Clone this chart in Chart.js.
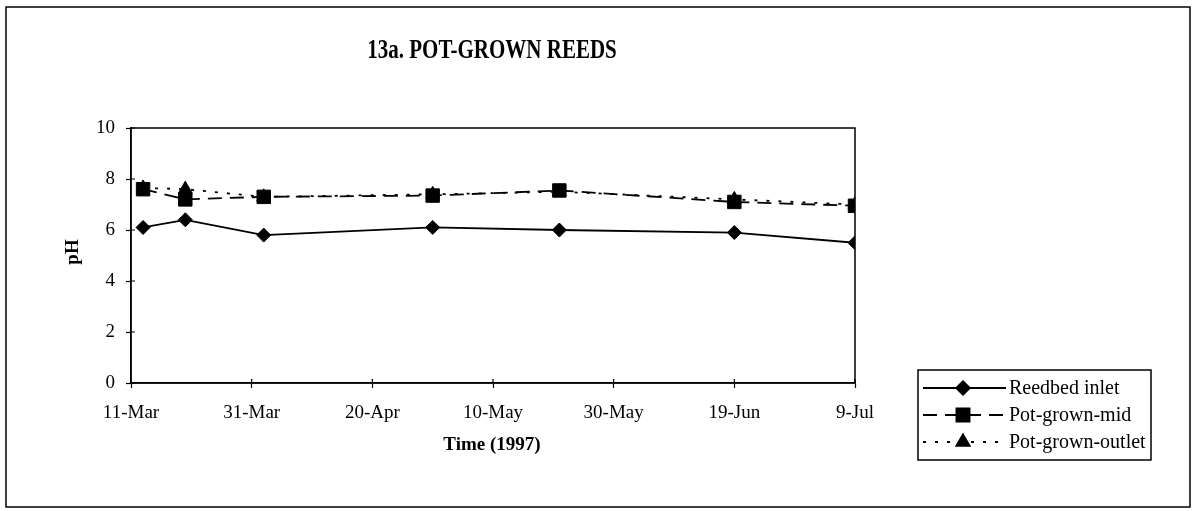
<!DOCTYPE html>
<html lang="en">
<head>
    <meta charset="UTF-8">
    <title>13a. Pot-grown reeds</title>
    <script src="https://cdn.jsdelivr.net/npm/chart.js"></script>
    <style>
        body {
            margin: 0;
            padding: 0;
            background-color: #fff;
        }
        .wrap {
            width: 1197px;
            height: 511px;
        }
    </style>
</head>
<body>
    <div class="wrap"><canvas id="chart"></canvas></div>

    <script>
        // days counted from 11-Mar-1997
        const sampleDays = [2, 9, 22, 50, 71, 100, 120];
        const reedbedInlet = [6.1, 6.4, 5.8, 6.1, 6.0, 5.9, 5.5];
        const potGrownMid = [7.6, 7.2, 7.3, 7.35, 7.55, 7.1, 6.95];
        const potGrownOutlet = [7.65, 7.6, 7.3, 7.4, 7.5, 7.2, 7.0];
        const xTickLabels = ['11-Mar', '31-Mar', '20-Apr', '10-May', '30-May', '19-Jun', '9-Jul'];
        const yTicks = [0, 2, 4, 6, 8, 10];

        const serif = '"Liberation Serif", "DejaVu Serif", serif';

        function toPoints(values) {
            return values.map((v, i) => ({ x: sampleDays[i], y: v }));
        }

        // frame, titles, cross ticks and the boxed legend
        const decorations = {
            id: 'decorations',
            afterDraw(chart) {
                const ctx = chart.ctx;
                const area = chart.chartArea;
                ctx.save();
                ctx.strokeStyle = '#000';
                ctx.lineWidth = 1.5;
                ctx.strokeRect(6, 7, 1184, 500);

                // plot border
                ctx.strokeRect(area.left, area.top, area.right - area.left, area.bottom - area.top);

                // ticks poke inside the plot a little too
                ctx.lineWidth = 1.2;
                ctx.beginPath();
                chart.scales.y.ticks.forEach(t => {
                    const y = chart.scales.y.getPixelForValue(t.value);
                    ctx.moveTo(area.left, y);
                    ctx.lineTo(area.left + 4, y);
                });
                chart.scales.x.ticks.forEach(t => {
                    const x = chart.scales.x.getPixelForValue(t.value);
                    ctx.moveTo(x, area.bottom);
                    ctx.lineTo(x, area.bottom - 4);
                });
                ctx.stroke();

                ctx.fillStyle = '#000';
                ctx.textAlign = 'center';
                ctx.textBaseline = 'middle';

                // title is a narrow bold face in the original
                ctx.save();
                ctx.translate(492, 51);
                ctx.scale(0.75, 1);
                ctx.font = 'bold 28px ' + serif;
                ctx.fillText('13a. POT-GROWN REEDS', 0, 0);
                ctx.restore();

                ctx.font = 'bold 19px ' + serif;
                ctx.fillText('Time (1997)', 492, 445);

                ctx.save();
                ctx.translate(73, 252);
                ctx.rotate(-Math.PI / 2);
                ctx.fillText('pH', 0, 0);
                ctx.restore();

                // legend
                const lx = 918, ly = 370, lw = 233, lh = 90;
                ctx.lineWidth = 1.5;
                ctx.strokeRect(lx, ly, lw, lh);
                const rows = [388, 415, 442];
                ctx.font = '20px ' + serif;
                ctx.textAlign = 'left';
                chart.data.datasets.forEach((ds, i) => {
                    const y = rows[i];
                    ctx.save();
                    ctx.strokeStyle = '#000';
                    ctx.lineWidth = ds.borderWidth;
                    ctx.setLineDash(ds.borderDash || []);
                    ctx.beginPath();
                    ctx.moveTo(lx + 5, y);
                    ctx.lineTo(lx + 88, y);
                    ctx.stroke();
                    ctx.restore();
                    Chart.helpers.drawPoint(ctx, {
                        pointStyle: ds.pointStyle,
                        radius: ds.pointRadius,
                        rotation: 0,
                        borderWidth: 1
                    }, lx + 45, y);
                    ctx.fillStyle = '#000';
                    ctx.fillText(ds.label, lx + 91, y + 1);
                });
                ctx.restore();
            }
        };

        function makeChart() {
            const ctx = document.getElementById('chart').getContext('2d');
            return new Chart(ctx, {
                type: 'line',
                data: {
                    datasets: [{
                        label: 'Reedbed inlet',
                        data: toPoints(reedbedInlet),
                        borderColor: '#000',
                        backgroundColor: '#000',
                        borderWidth: 1.8,
                        pointStyle: 'rectRot',
                        pointRadius: 7,
                        pointBorderWidth: 1
                    }, {
                        label: 'Pot-grown-mid',
                        data: toPoints(potGrownMid),
                        borderColor: '#000',
                        backgroundColor: '#000',
                        borderWidth: 1.8,
                        borderDash: [14, 8],
                        pointStyle: 'rect',
                        pointRadius: 9.5,
                        pointBorderWidth: 1
                    }, {
                        label: 'Pot-grown-outlet',
                        data: toPoints(potGrownOutlet),
                        borderColor: '#000',
                        backgroundColor: '#000',
                        borderWidth: 1.8,
                        borderDash: [3, 9],
                        pointStyle: 'triangle',
                        pointRadius: 8,
                        pointBorderWidth: 1
                    }]
                },
                options: {
                    responsive: true,
                    maintainAspectRatio: false,
                    animation: false,
                    layout: {
                        padding: { top: 128, right: 342, left: 0, bottom: 0 }
                    },
                    plugins: {
                        legend: { display: false },
                        tooltip: { enabled: false }
                    },
                    scales: {
                        x: {
                            type: 'linear',
                            min: 0,
                            max: 120,
                            afterFit(scale) { scale.height = 128; },
                            afterBuildTicks(scale) {
                                scale.ticks = xTickLabels.map((t, i) => ({ value: i * 20 }));
                            },
                            ticks: {
                                color: '#000',
                                font: { family: serif, size: 19 },
                                padding: 14,
                                maxRotation: 0,
                                callback: (v) => xTickLabels[v / 20]
                            },
                            grid: {
                                drawOnChartArea: false,
                                color: '#000',
                                tickLength: 5,
                                tickWidth: 1.2
                            },
                            border: { color: '#000', width: 1.5 }
                        },
                        y: {
                            min: 0,
                            max: 10,
                            afterFit(scale) { scale.width = 131; },
                            afterBuildTicks(scale) {
                                scale.ticks = yTicks.map(v => ({ value: v }));
                            },
                            ticks: {
                                color: '#000',
                                font: { family: serif, size: 19 },
                                padding: 11
                            },
                            grid: {
                                drawOnChartArea: false,
                                color: '#000',
                                tickLength: 5,
                                tickWidth: 1.2
                            },
                            border: { color: '#000', width: 1.5 }
                        }
                    }
                },
                plugins: [decorations]
            });
        }

        window.addEventListener('load', makeChart);
    </script>
</body>
</html>
